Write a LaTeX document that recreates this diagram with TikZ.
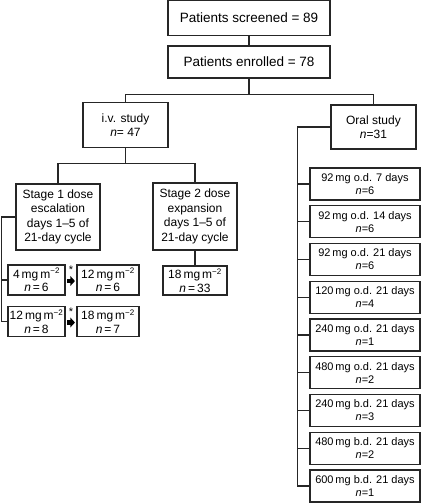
\documentclass[tikz,border=0pt]{standalone}
\usepackage{fontspec}
\setmainfont{Liberation Sans}
\usepackage{tikz}
\usetikzlibrary{arrows.meta}
\definecolor{edge}{HTML}{262626}
\tikzset{
  box/.style={draw=edge, line width=1.1pt, align=center, inner sep=1pt, font=\fontsize{12}{14.5}\selectfont},
  topbox/.style={box, minimum width=162pt, font=\fontsize{13.5}{15}\selectfont},
  dosebox/.style={box, minimum height=30pt, font=\fontsize{12}{13.5}\selectfont},
  oralbox/.style={box, minimum width=110pt, minimum height=32pt, font=\fontsize{11}{13}\selectfont},
  link/.style={draw=edge, line width=1.1pt},
  fatarrow/.style={draw=black, line width=4.5pt, -{Triangle[length=4.5pt, width=9.5pt]}, shorten <=1.5pt, shorten >=1.5pt},
  star/.style={font=\fontsize{11}{11}\selectfont, inner sep=0pt}
}
\newcommand{\nn}{\textit{n}}
\newcommand{\mgm}[1]{#1\,mg\,m\textsuperscript{−2}}

\begin{document}
\begin{tikzpicture}[x=1pt, y=-1pt]
    \useasboundingbox (0,0) rectangle (422,504);
    % Top
    \node[topbox, minimum height=35pt] (screened) at (249,18) {Patients screened = 89};
    \node[topbox, minimum height=32pt] (enrolled) at (249,62) {Patients enrolled = 78};
    \draw[link] (screened.south) -- (enrolled.north);

    % Studies
    \node[box, minimum width=85pt, minimum height=45pt] (iv) at (125.5,125) {i.v. study\\\nn= 47};
    \node[box, minimum width=85pt, minimum height=44pt] (oral) at (373.5,127) {Oral study\\\nn=31};
    \draw[link] (enrolled.south) -- ++(0,16) -| (iv.north);
    \draw[link] (enrolled.south) -- ++(0,16) -| (oral.north);

    % i.v. stages
    \node[box, minimum width=84pt, minimum height=66pt] (stageone) at (58,217) {Stage 1 dose\\escalation\\days 1–5 of\\21-day cycle};
    \node[box, minimum width=84pt, minimum height=67pt] (stagetwo) at (195,216.5) {Stage 2 dose\\expansion\\days 1–5 of\\21-day cycle};
    \draw[link] (iv.south) -- ++(0,15.5) -| (stageone.north);
    \draw[link] (iv.south) -- ++(0,15.5) -| (stagetwo.north);

    % Escalation cohorts
    \node[dosebox, minimum width=57pt] (doseA) at (36.5,280) {\mgm{4}\\\nn\,=\,6};
    \node[dosebox, minimum width=62pt] (doseB) at (108,280) {\mgm{12}\\\nn\,=\,6};
    \node[dosebox, minimum width=57pt] (doseC) at (36.5,321.5) {\mgm{12}\\\nn\,=\,8};
    \node[dosebox, minimum width=62pt] (doseD) at (108,321.5) {\mgm{18}\\\nn\,=\,7};
    \draw[fatarrow] ([yshift=-1pt]doseA.east) -- ([yshift=-1pt]doseB.west)
        node[star, midway, above=5pt] (starAB) {*};
    \draw[fatarrow] ([yshift=-1pt]doseC.east) -- ([yshift=-1pt]doseD.west)
        node[star, midway, above=5pt] (starCD) {*};
    \draw[link] (stageone.west) -- ++(-14,0) |- (doseC.west);
    \draw[link] (doseA.west) -- ++(-6,0);

    % Expansion cohort
    \node[dosebox, minimum width=64pt, minimum height=29pt] (expand) at (195,280.5) {\mgm{18}\\\nn\,=\,33};
    \draw[link] (stagetwo.south) -- (expand.north);

    % Oral cohorts
    \foreach \i/\txt/\num in {1/92\,mg o.d. 7 days/6, 2/92\,mg o.d. 14 days/6, 3/92\,mg o.d. 21 days/6,
        4/120\,mg o.d. 21 days/4, 5/240\,mg o.d. 21 days/1, 6/480\,mg o.d. 21 days/2,
        7/240\,mg b.d. 21 days/3, 8/480\,mg b.d. 21 days/2, 9/600\,mg b.d. 21 days/1}
        \node[oralbox] (oral\i) at (365,{184+37.75*(\i-1)}) {\txt\\\nn=\num};
    \draw[link] (oral.west) -- ++(-33,0) |- (oral9.west);
    \foreach \i in {1,...,8}
        \draw[link] (oral\i.west) -- ++(-12,0);
\end{tikzpicture}
\end{document}
